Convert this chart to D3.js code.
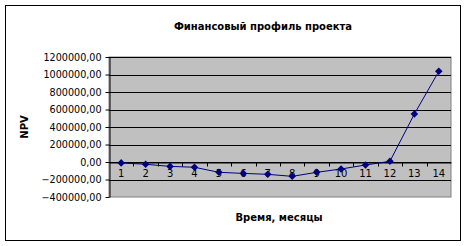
<!DOCTYPE html>
<html><head><meta charset="utf-8">
<script src="https://cdnjs.cloudflare.com/ajax/libs/d3/7.8.5/d3.min.js"></script>
<style>body{margin:0;background:#fff}svg{display:block}</style>
</head><body>
<script>
const title = "Финансовый профиль проекта";
const xTitle = "Время, месяцы";
const yTitle = "NPV";
const months = ["1","2","3","4","5","6","7","8","9","10","11","12","13","14"];
const npv = [-10000,-26000,-50000,-60000,-118000,-130000,-141000,-164000,-118000,-80000,-34000,8000,548000,1036000];
const yTicks = [-400000,-200000,0,200000,400000,600000,800000,1000000,1200000];

const W = 467, H = 246;
const svg = d3.select("body").append("svg").attr("width", W).attr("height", H);
svg.append("rect").attr("x",5.5).attr("y",5.5).attr("width",455).attr("height",235)
  .attr("fill","#fff").attr("stroke","#000").attr("stroke-width",1);

const L = 109, R = 451, T = 57, B = 197;
const x = d3.scaleBand().domain(months).range([L, R]);
const y = d3.scaleLinear().domain([-400000,1200000]).range([B, T]);

svg.append("rect").attr("x",L).attr("y",T).attr("width",R-L).attr("height",B-T)
  .attr("fill","#c0c0c0").attr("stroke","#808080").attr("stroke-width",1);

// gridlines
svg.append("g").selectAll("line").data(yTicks.filter(d=>d>-400000)).join("line")
  .attr("x1",L).attr("x2",R).attr("y1",d=>Math.round(y(d))+0.5).attr("y2",d=>Math.round(y(d))+0.5)
  .attr("stroke","#000");

const fmt = d => d3.format("d")(d) + ",00";
const font = "DejaVu Sans, Verdana, sans-serif";

// y axis
const ya = svg.append("g").attr("transform",`translate(${L+0.5},0)`)
  .call(d3.axisLeft(y).tickValues(yTicks).tickFormat(fmt).tickSize(4).tickPadding(4).tickSizeOuter(0));
ya.select(".domain").attr("stroke","#000");
ya.selectAll(".tick line").attr("stroke","#000");
ya.selectAll("text").attr("font-family",font).attr("font-size","9.6px").attr("fill","#000");

// x axis at zero
const xa = svg.append("g").attr("transform",`translate(0,${Math.round(y(0))+0.5})`)
  .call(d3.axisBottom(x).tickSize(0).tickPadding(7).tickSizeOuter(0));
xa.select(".domain").attr("stroke","#000");
xa.selectAll("text").attr("font-family",font).attr("font-size","10px").attr("fill","#000");
xa.selectAll(".bnd").data(months.slice(1)).join("line").attr("class","bnd")
  .attr("x1",d=>Math.round(x(d))+0.5).attr("x2",d=>Math.round(x(d))+0.5)
  .attr("y1",0).attr("y2",4).attr("stroke","#000");

// line
const cx = d => x(d) + x.bandwidth()/2;
svg.append("path").datum(npv.map((v,i)=>[months[i],v]))
  .attr("fill","none").attr("stroke","#000080").attr("stroke-width",1)
  .attr("d", d3.line().x(d=>cx(d[0])).y(d=>y(d[1])));
svg.append("g").selectAll("path").data(npv.map((v,i)=>[months[i],v])).join("path")
  .attr("d", d3.symbol().type(d3.symbolDiamond2).size(36))
  .attr("transform", d=>`translate(${cx(d[0])},${y(d[1])})`)
  .attr("fill","#000080");

// titles
svg.append("text").attr("x",263).attr("y",30).attr("text-anchor","middle")
  .attr("font-family",font).attr("font-weight","bold").attr("font-size","10px").text(title);
svg.append("text").attr("x",279).attr("y",221).attr("text-anchor","middle")
  .attr("font-family",font).attr("font-weight","bold").attr("font-size","10px").text(xTitle);
svg.append("text").attr("transform","translate(27.5,127) rotate(-90)").attr("text-anchor","middle")
  .attr("font-family",font).attr("font-weight","bold").attr("font-size","10px").text(yTitle);
</script>
</body></html>
